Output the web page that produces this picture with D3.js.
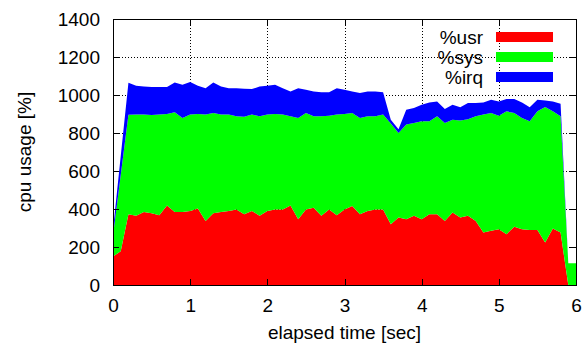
<!DOCTYPE html>
<html>
<head>
<meta charset="utf-8">
<script src="https://cdn.jsdelivr.net/npm/d3@7"></script>
<style>
    body { margin: 0; background: #fff; }
    svg text { font-family: "Liberation Sans", Arial, sans-serif; font-size: 19px; fill: #000; }
    .grid line { stroke: #000; stroke-width: 1; stroke-dasharray: 1,2; shape-rendering: crispEdges; }
    .frame { fill: none; stroke: #000; stroke-width: 1; shape-rendering: crispEdges; }
    .tick line { stroke: #000; shape-rendering: crispEdges; }
</style>
</head>
<body>
<svg id="chart" width="586" height="345"></svg>
<script>
// elapsed time (sec) of each sample
var times = [0.0, 0.1, 0.2, 0.3, 0.4, 0.5, 0.6, 0.7, 0.8, 0.9,
             1.0, 1.1, 1.2, 1.3, 1.4, 1.5, 1.6, 1.7, 1.8, 1.9,
             2.0, 2.1, 2.2, 2.3, 2.4, 2.5, 2.6, 2.7, 2.8, 2.9,
             3.0, 3.1, 3.2, 3.3, 3.4, 3.5, 3.6, 3.7, 3.8, 3.9,
             4.0, 4.1, 4.2, 4.3, 4.4, 4.5, 4.6, 4.7, 4.8, 4.9,
             5.0, 5.1, 5.2, 5.3, 5.4, 5.5, 5.6, 5.7, 5.8, 5.9, 6.0];

// %usr per sample
var usr = [150, 178, 372, 364, 384, 377, 367, 419, 384, 384,
           390, 402, 337, 377, 384, 390, 398, 372, 390, 364,
           390, 398, 398, 419, 346, 398, 407, 364, 398, 367,
           398, 416, 372, 390, 398, 398, 320, 355, 346, 364,
           346, 372, 372, 337, 381, 355, 364, 337, 276, 285,
           294, 267, 307, 294, 290, 290, 224, 297, 276, 0, 0];

// %sys per sample
var sys = [110, 400, 524, 533, 513, 518, 530, 481, 525, 495,
           507, 498, 560, 528, 513, 507, 490, 513, 507, 524,
           507, 502, 499, 469, 533, 507, 481, 524, 493, 530,
           502, 489, 507, 498, 490, 499, 530, 445, 499, 489,
           516, 490, 516, 516, 489, 511, 509, 551, 621, 620,
           597, 647, 598, 585, 572, 624, 713, 617, 612, 115, 115];

// %irq per sample
var irq = [30, 99, 168, 152, 148, 147, 145, 142, 157, 175,
           171, 149, 139, 161, 148, 139, 148, 148, 134, 157,
           152, 154, 139, 131, 157, 123, 131, 126, 123, 139,
           128, 114, 131, 131, 131, 117, 20, 20, 78, 79,
           87, 99, 78, 73, 79, 70, 85, 70, 64, 70,
           75, 65, 74, 82, 74, 61, 34, 52, 66, 0, 0];

var seriesNames = ['%usr', '%sys', '%irq'];
var seriesColors = ['#ff0000', '#00ff00', '#0000ff'];
var xTicks = [0, 1, 2, 3, 4, 5, 6];
var yTicks = [0, 200, 400, 600, 800, 1000, 1200, 1400];

/** Stacked cpu usage chart, gnuplot look */
class CpuChart {
    constructor() {
        this.left = 113;
        this.right = 576;
        this.top = 19;
        this.bottom = 285;

        this.x = d3.scaleLinear().domain([0, 6]).range([this.left, this.right]);
        this.y = d3.scaleLinear().domain([0, 1400]).range([this.bottom, this.top]);
        this.svg = d3.select('#chart');
    }

    drawGrid() {
        var self = this;
        var grid = this.svg.append('g').attr('class', 'grid');

        // vertical grid lines, skip the ones on the frame
        grid.selectAll('.gx')
            .data(xTicks.slice(1, -1))
            .enter()
            .append('line')
            .attr('x1', function (d) { return Math.round(self.x(d)) + 0.5; })
            .attr('x2', function (d) { return Math.round(self.x(d)) + 0.5; })
            .attr('y1', this.top)
            .attr('y2', this.bottom);

        grid.selectAll('.gy')
            .data(yTicks.slice(1, -1))
            .enter()
            .append('line')
            .attr('x1', this.left)
            .attr('x2', this.right)
            .attr('y1', function (d) { return Math.round(self.y(d)) + 0.5; })
            .attr('y2', function (d) { return Math.round(self.y(d)) + 0.5; });
    }

    drawAreas() {
        var self = this;
        var rows = times.map(function (t, i) {
            return { t: t, usr: usr[i], sys: sys[i], irq: irq[i] };
        });

        var stack = d3.stack().keys(['usr', 'sys', 'irq']);
        var layers = stack(rows);

        var area = d3.area()
            .x(function (d) { return self.x(d.data.t); })
            .y0(function (d) { return self.y(d[0]); })
            .y1(function (d) { return self.y(d[1]); });

        this.svg.append('g')
            .selectAll('path')
            .data(layers)
            .enter()
            .append('path')
            .attr('fill', function (d, i) { return seriesColors[i]; })
            .attr('d', area);
    }

    drawAxes() {
        var self = this;
        var tickLen = 6;
        var fmt = d3.format('d');

        // bottom + top axis (gnuplot mirrors ticks inward)
        var bottomAxis = d3.axisBottom(this.x).tickValues(xTicks).tickFormat(fmt).tickSizeInner(-tickLen).tickSizeOuter(0).tickPadding(14);
        var topAxis = d3.axisTop(this.x).tickValues(xTicks).tickSizeInner(-tickLen).tickSizeOuter(0).tickFormat('');
        var leftAxis = d3.axisLeft(this.y).tickValues(yTicks).tickFormat(fmt).tickSizeInner(-tickLen).tickSizeOuter(0).tickPadding(13);
        var rightAxis = d3.axisRight(this.y).tickValues(yTicks).tickSizeInner(-tickLen).tickSizeOuter(0).tickFormat('');

        var axes = [
            [bottomAxis, 'translate(0,' + this.bottom + ')'],
            [topAxis, 'translate(0,' + this.top + ')'],
            [leftAxis, 'translate(' + this.left + ',0)'],
            [rightAxis, 'translate(' + this.right + ',0)']
        ];
        axes.forEach(function (a) {
            var g = self.svg.append('g').attr('transform', a[1]).call(a[0]);
            g.select('.domain').remove();
            g.attr('font-size', null).attr('font-family', null);
        });

        this.svg.append('rect')
            .attr('class', 'frame')
            .attr('x', this.left + 0.5)
            .attr('y', this.top + 0.5)
            .attr('width', this.right - this.left)
            .attr('height', this.bottom - this.top);

        // axis titles
        this.svg.append('text')
            .attr('x', (this.left + this.right) / 2)
            .attr('y', 339)
            .attr('text-anchor', 'middle')
            .text('elapsed time [sec]');

        this.svg.append('text')
            .attr('transform', 'translate(31,' + (this.top + this.bottom) / 2 + ') rotate(-90)')
            .attr('text-anchor', 'middle')
            .text('cpu usage [%]');
    }

    drawLegend() {
        var legend = this.svg.append('g');
        var rowY = [37, 57, 77];

        var item = legend.selectAll('g')
            .data(seriesNames)
            .enter()
            .append('g')
            .attr('transform', function (d, i) { return 'translate(0,' + rowY[i] + ')'; });

        item.append('text')
            .attr('x', 483)
            .attr('dy', '0.35em')
            .attr('text-anchor', 'end')
            .text(function (d) { return d; });

        item.append('rect')
            .attr('x', 496)
            .attr('y', -5)
            .attr('width', 57)
            .attr('height', 10)
            .attr('fill', function (d, i) { return seriesColors[i]; });
    }
}

var chart = new CpuChart();
chart.drawGrid();
chart.drawAreas();
chart.drawAxes();
chart.drawLegend();
</script>
</body>
</html>
